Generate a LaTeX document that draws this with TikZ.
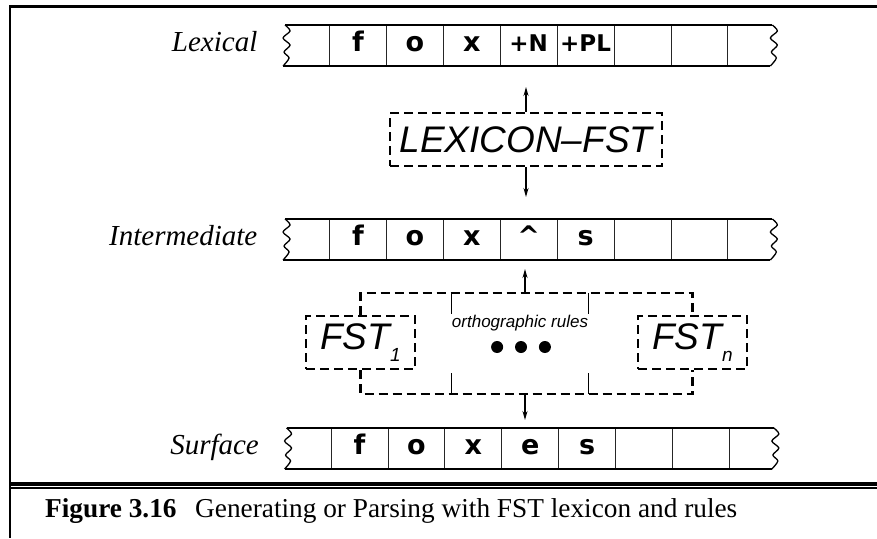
\documentclass[tikz,border=0pt]{standalone}
\usepackage{fontspec}
\setmainfont{Liberation Serif}
\newfontfamily\cellfont{DejaVu Sans}
\newfontfamily\boxfont{Liberation Sans}
\usetikzlibrary{positioning,arrows.meta}

\begin{document}
\begin{tikzpicture}[x=1pt,y=-1pt]
% Styles
\tikzset{
    cell/.style={draw=black!85, line width=0.9pt, minimum width=56.9pt, minimum height=41pt,
        inner sep=0pt, outer sep=0pt, text height=17pt, text depth=5pt,
        font=\cellfont\bfseries\fontsize{27}{27}\selectfont},
    tag/.style={font=\cellfont\bfseries\fontsize{23}{23}\selectfont},
    tapeline/.style={line width=1.8pt},
    level/.style={anchor=base east, inner sep=0pt, font=\itshape\fontsize{29}{29}\selectfont},
    fstbox/.style={draw, dash pattern=on 9pt off 5pt, line width=2.4pt, minimum width=109pt,
        minimum height=53pt, inner sep=0pt, font=\boxfont\itshape\fontsize{37}{37}\selectfont},
    bracket/.style={dash pattern=on 9pt off 5pt, line width=2.4pt},
    flow/.style={line width=1.3pt, -{Stealth[length=9pt, width=5pt]}},
    tick/.style={line width=1.3pt},
    dot/.style={circle, fill, minimum size=12pt, inner sep=0pt},
    squig/.pic={\draw[line width=1.3pt] plot[smooth] coordinates {(0,0) (5,6) (-2,13) (5,20) (-1,27) (4,33) (-2,41)};}
}
\useasboundingbox (0,0) rectangle (877,538);

% Frame
\draw[line width=3pt] (9,6.5) -- (877,6.5);
\draw[line width=1.6pt] (9.8,5) -- (9.8,538);
\draw[line width=3.2pt] (9,484) -- (877,484);
\draw[line width=2pt] (9,488) -- (877,488);

% Lexical tape
\node[cell] (L1) at (358,45.5) {f};
\node[cell, right=0pt of L1] (L2) {o};
\node[cell, right=0pt of L2] (L3) {x};
\node[cell, tag, right=0pt of L3] (L4) {+N};
\node[cell, tag, right=0pt of L4] (L5) {+PL};
\node[cell, right=0pt of L5] (L6) {};
\node[cell, right=0pt of L6] (L7) {};
\draw[tapeline] ([xshift=-44.5pt]L1.north west) -- ([xshift=44.5pt]L7.north east);
\draw[tapeline] ([xshift=-46.5pt]L1.south west) -- ([xshift=42.5pt]L7.south east);
\pic at ([xshift=-44.5pt]L1.north west) {squig};
\pic at ([xshift=44.5pt]L7.north east) {squig};
\node[level] (lexlab) at ([xshift=-72pt]L1.base west) {Lexical};

% Intermediate tape
\node[cell] (I1) at (358,239.5) {f};
\node[cell, right=0pt of I1] (I2) {o};
\node[cell, right=0pt of I2] (I3) {x};
\node[cell, right=0pt of I3] (I4) {\textasciicircum};
\node[cell, right=0pt of I4] (I5) {s};
\node[cell, right=0pt of I5] (I6) {};
\node[cell, right=0pt of I6] (I7) {};
\draw[tapeline] ([xshift=-44.5pt]I1.north west) -- ([xshift=44.5pt]I7.north east);
\draw[tapeline] ([xshift=-46.5pt]I1.south west) -- ([xshift=42.5pt]I7.south east);
\pic at ([xshift=-44.5pt]I1.north west) {squig};
\pic at ([xshift=44.5pt]I7.north east) {squig};
\node[level] (intlab) at ([xshift=-72pt]I1.base west) {Intermediate};

% Surface tape
\node[cell] (S1) at (359.5,448.5) {f};
\node[cell, right=0pt of S1] (S2) {o};
\node[cell, right=0pt of S2] (S3) {x};
\node[cell, right=0pt of S3] (S4) {e};
\node[cell, right=0pt of S4] (S5) {s};
\node[cell, right=0pt of S5] (S6) {};
\node[cell, right=0pt of S6] (S7) {};
\draw[tapeline] ([xshift=-44.5pt]S1.north west) -- ([xshift=44.5pt]S7.north east);
\draw[tapeline] ([xshift=-46.5pt]S1.south west) -- ([xshift=42.5pt]S7.south east);
\pic at ([xshift=-44.5pt]S1.north west) {squig};
\pic at ([xshift=44.5pt]S7.north east) {squig};
\node[level] (surlab) at ([xshift=-72pt]S1.base west) {Surface};

% Transducers
\node[fstbox, minimum width=272pt] (lexfst) at (526,139.5) {LEXICON–FST};
\node[fstbox] (fst1) at (360.5,342.5) {FST\raisebox{-12pt}{\fontsize{19}{19}\selectfont 1}};
\node[fstbox] (fstn) at (692.5,342.5) {FST\raisebox{-12pt}{\fontsize{19}{19}\selectfont n}};
\node[inner sep=0pt, font=\boxfont\itshape\fontsize{17}{17}\selectfont] (rules) at (520,323) {orthographic rules};
\node[dot] (dot2) at (521,347) {};
\node[dot, left=11.5pt of dot2] (dot1) {};
\node[dot, right=11.5pt of dot2] (dot3) {};

% Connections
\coordinate (brtop) at (525,293);
\coordinate (brbot) at (525,394);
\draw[bracket] (fst1.north) |- (brtop) -| (fstn.north);
\draw[bracket] (fst1.south) |- (brbot) -| (fstn.south);
\draw[tick] (rules.west |- brtop) -- ++(0,21);
\draw[tick] (rules.east |- brtop) -- ++(0,21);
\draw[tick] (rules.west |- brbot) -- ++(0,-21);
\draw[tick] (rules.east |- brbot) -- ++(0,-21);
\draw[flow, shorten >=21pt] (lexfst.north) -- (lexfst.north |- L4.south);
\draw[flow, shorten >=22pt] (lexfst.south) -- (lexfst.south |- I4.north);
\draw[flow, shorten >=9pt] (brtop) -- (brtop |- I4.south);
\draw[flow, shorten >=8pt] (brbot) -- (brbot |- S4.north);

% Caption
\node[anchor=base west, inner sep=0pt, font=\bfseries\fontsize{27.3}{28}\selectfont] (figno) at (45,517) {Figure 3.16};
\node[anchor=base west, inner sep=0pt, font=\fontsize{27.3}{28}\selectfont] (caption) at (195,517) {Generating or Parsing with FST lexicon and rules};
\end{tikzpicture}
\end{document}
